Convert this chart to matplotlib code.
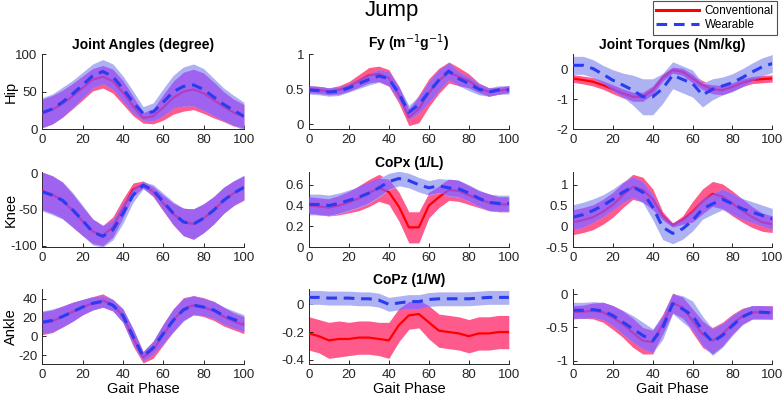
import numpy as np
import matplotlib.pyplot as plt

plt.rcParams['font.family'] = ['Liberation Sans', 'DejaVu Sans']

# gait phase samples (%)
phase = np.arange(0, 101, 5)

# Hip joint angle (degree)
hip_ang_conv = [21, 26, 34, 44, 55, 66, 70, 64, 49, 31, 15, 17, 29, 42, 50, 53, 48, 39, 30, 22, 17]
hip_ang_conv_sd = [19, 19, 18, 17, 16, 15, 15, 16, 16, 13, 7, 10, 17, 22, 26, 27, 27, 24, 20, 18, 16]
hip_ang_wear = [22, 27, 36, 47, 59, 71, 77, 70, 54, 36, 21, 23, 36, 50, 57, 59, 53, 43, 33, 25, 17]
hip_ang_wear_sd = [20, 20, 20, 18, 17, 16, 16, 17, 17, 15, 9, 12, 18, 22, 26, 28, 28, 25, 22, 20, 19]

# Fy (m^-1 g^-1)
fy_conv = [0.50, 0.49, 0.47, 0.49, 0.54, 0.62, 0.70, 0.72, 0.66, 0.42, 0.10, 0.22, 0.45, 0.62, 0.74, 0.68, 0.62, 0.52, 0.46, 0.48, 0.50]
fy_conv_sd = [0.05, 0.05, 0.05, 0.06, 0.07, 0.09, 0.11, 0.11, 0.12, 0.12, 0.12, 0.20, 0.20, 0.18, 0.15, 0.13, 0.10, 0.07, 0.06, 0.05, 0.05]
fy_wear = [0.49, 0.48, 0.46, 0.47, 0.52, 0.58, 0.64, 0.69, 0.65, 0.44, 0.17, 0.28, 0.46, 0.63, 0.76, 0.65, 0.58, 0.50, 0.46, 0.49, 0.49]
fy_wear_sd = [0.06, 0.06, 0.06, 0.06, 0.06, 0.07, 0.08, 0.09, 0.10, 0.10, 0.10, 0.12, 0.15, 0.15, 0.12, 0.10, 0.10, 0.08, 0.06, 0.06, 0.06]

# Hip joint torque (Nm/kg)
hip_trq_conv = [-0.31, -0.36, -0.42, -0.53, -0.67, -0.81, -0.92, -0.92, -0.70, -0.28, -0.03, -0.09, -0.31, -0.53, -0.67, -0.70, -0.59, -0.45, -0.36, -0.33, -0.31]
hip_trq_conv_sd = [0.13, 0.13, 0.14, 0.14, 0.15, 0.15, 0.15, 0.15, 0.14, 0.12, 0.10, 0.12, 0.14, 0.15, 0.15, 0.15, 0.14, 0.13, 0.12, 0.12, 0.12]
hip_trq_wear = [0.13, 0.13, 0.02, -0.17, -0.37, -0.53, -0.70, -0.92, -0.92, -0.64, -0.20, -0.34, -0.48, -0.86, -0.67, -0.56, -0.45, -0.28, -0.09, 0.08, 0.19]
hip_trq_wear_sd = [0.30, 0.30, 0.30, 0.30, 0.35, 0.40, 0.50, 0.60, 0.60, 0.50, 0.45, 0.45, 0.45, 0.40, 0.35, 0.30, 0.30, 0.30, 0.30, 0.30, 0.30]

# Knee joint angle (degree)
knee_ang_conv = [-24, -29, -37, -51, -66, -80, -86, -74, -48, -22, -15, -25, -41, -56, -67, -70, -62, -51, -37, -27, -20]
knee_ang_conv_sd = [26, 26, 25, 23, 20, 17, 14, 14, 13, 9, 5, 7, 11, 15, 19, 21, 20, 19, 18, 17, 17]
knee_ang_wear = [-25, -30, -37, -50, -65, -81, -87, -78, -55, -30, -16, -23, -39, -55, -67, -70, -62, -51, -37, -27, -19]
knee_ang_wear_sd = [27, 27, 26, 24, 21, 18, 15, 14, 14, 10, 5, 8, 12, 16, 19, 21, 20, 19, 18, 17, 17]

# CoPx (1/L)
copx_conv = [0.40, 0.39, 0.38, 0.40, 0.43, 0.47, 0.52, 0.57, 0.53, 0.39, 0.19, 0.19, 0.40, 0.48, 0.55, 0.54, 0.50, 0.46, 0.43, 0.41, 0.41]
copx_conv_sd = [0.08, 0.08, 0.08, 0.09, 0.10, 0.12, 0.13, 0.13, 0.12, 0.14, 0.15, 0.15, 0.12, 0.10, 0.10, 0.10, 0.09, 0.08, 0.08, 0.07, 0.07]
copx_wear = [0.41, 0.41, 0.40, 0.42, 0.45, 0.48, 0.52, 0.57, 0.63, 0.66, 0.64, 0.60, 0.57, 0.59, 0.57, 0.56, 0.52, 0.47, 0.43, 0.42, 0.42]
copx_wear_sd = [0.10, 0.10, 0.10, 0.10, 0.10, 0.10, 0.10, 0.09, 0.08, 0.07, 0.07, 0.07, 0.07, 0.07, 0.08, 0.08, 0.08, 0.08, 0.08, 0.08, 0.08]

# Knee joint torque (Nm/kg)
knee_trq_conv = [0.10, 0.15, 0.22, 0.35, 0.52, 0.75, 0.95, 0.88, 0.65, 0.25, 0.03, 0.15, 0.35, 0.60, 0.78, 0.72, 0.55, 0.38, 0.22, 0.10, 0.05]
knee_trq_conv_sd = [0.30, 0.30, 0.30, 0.30, 0.30, 0.30, 0.30, 0.30, 0.25, 0.10, 0.05, 0.10, 0.25, 0.30, 0.30, 0.30, 0.30, 0.28, 0.25, 0.22, 0.20]
knee_trq_wear = [0.22, 0.28, 0.38, 0.50, 0.65, 0.82, 0.95, 0.82, 0.46, -0.02, -0.17, -0.06, 0.14, 0.42, 0.54, 0.65, 0.54, 0.42, 0.34, 0.26, 0.18]
knee_trq_wear_sd = [0.30, 0.30, 0.28, 0.26, 0.25, 0.25, 0.25, 0.25, 0.30, 0.30, 0.25, 0.25, 0.25, 0.25, 0.25, 0.25, 0.25, 0.25, 0.25, 0.25, 0.25]

# Ankle joint angle (degree)
ank_ang_conv = [14, 16, 21, 26, 31, 35, 38, 33, 22, -1, -22, -14, 2, 17, 29, 33, 31, 27, 21, 16, 12]
ank_ang_conv_sd = [12, 12, 11, 10, 8, 7, 7, 6, 7, 9, 6, 9, 11, 12, 12, 10, 10, 10, 10, 9, 9]
ank_ang_wear = [15, 17, 21, 26, 31, 35, 37, 33, 22, 0, -21, -12, 3, 17, 28, 33, 31, 28, 22, 18, 14]
ank_ang_wear_sd = [12, 12, 11, 10, 8, 7, 6, 6, 7, 8, 5, 7, 10, 12, 12, 10, 9, 9, 9, 9, 9]

# CoPz (1/W)
copz_conv = [-0.21, -0.23, -0.26, -0.25, -0.25, -0.24, -0.24, -0.25, -0.26, -0.15, -0.08, -0.07, -0.13, -0.19, -0.20, -0.21, -0.23, -0.21, -0.21, -0.20, -0.20]
copz_conv_sd = [0.12, 0.12, 0.13, 0.13, 0.12, 0.12, 0.12, 0.12, 0.13, 0.12, 0.10, 0.10, 0.12, 0.12, 0.12, 0.12, 0.12, 0.12, 0.12, 0.12, 0.12]
copz_wear = [0.05, 0.05, 0.045, 0.045, 0.045, 0.04, 0.04, 0.03, 0.00, 0.01, 0.02, 0.02, 0.035, 0.04, 0.04, 0.04, 0.04, 0.045, 0.05, 0.05, 0.05]
copz_wear_sd = [0.05, 0.05, 0.05, 0.05, 0.05, 0.05, 0.05, 0.05, 0.05, 0.05, 0.05, 0.05, 0.05, 0.05, 0.05, 0.05, 0.05, 0.05, 0.05, 0.05, 0.05]

# Ankle joint torque (Nm/kg)
ank_trq_conv = [-0.27, -0.26, -0.25, -0.27, -0.35, -0.45, -0.58, -0.70, -0.72, -0.45, -0.13, -0.20, -0.40, -0.60, -0.70, -0.60, -0.45, -0.33, -0.27, -0.27, -0.27]
ank_trq_conv_sd = [0.10, 0.10, 0.12, 0.15, 0.18, 0.20, 0.22, 0.20, 0.18, 0.15, 0.15, 0.16, 0.18, 0.20, 0.20, 0.18, 0.15, 0.12, 0.10, 0.10, 0.10]
ank_trq_wear = [-0.24, -0.24, -0.23, -0.25, -0.32, -0.42, -0.52, -0.62, -0.70, -0.50, -0.14, -0.22, -0.32, -0.55, -0.72, -0.62, -0.47, -0.34, -0.27, -0.27, -0.28]
ank_trq_wear_sd = [0.12, 0.12, 0.12, 0.13, 0.15, 0.18, 0.20, 0.20, 0.18, 0.18, 0.15, 0.20, 0.22, 0.22, 0.20, 0.18, 0.15, 0.12, 0.10, 0.10, 0.10]

titles = ['Joint Angles (degree)', 'Fy (m$^{-1}$g$^{-1}$)', 'Joint Torques (Nm/kg)',
          None, 'CoPx (1/L)', None,
          None, 'CoPz (1/W)', None]
row_labels = ['Hip', 'Knee', 'Ankle']

panels = [
    (hip_ang_conv, hip_ang_conv_sd, hip_ang_wear, hip_ang_wear_sd, (0, 100), [0, 50, 100]),
    (fy_conv, fy_conv_sd, fy_wear, fy_wear_sd, (-0.07, 1.0), [0, 0.5, 1]),
    (hip_trq_conv, hip_trq_conv_sd, hip_trq_wear, hip_trq_wear_sd, (-2, 0.5), [-2, -1, 0]),
    (knee_ang_conv, knee_ang_conv_sd, knee_ang_wear, knee_ang_wear_sd, (-102, 2), [-100, -50, 0]),
    (copx_conv, copx_conv_sd, copx_wear, copx_wear_sd, (0, 0.72), [0, 0.2, 0.4, 0.6]),
    (knee_trq_conv, knee_trq_conv_sd, knee_trq_wear, knee_trq_wear_sd, (-0.5, 1.3), [-0.5, 0, 0.5, 1]),
    (ank_ang_conv, ank_ang_conv_sd, ank_ang_wear, ank_ang_wear_sd, (-29, 50), [-20, 0, 20, 40]),
    (copz_conv, copz_conv_sd, copz_wear, copz_wear_sd, (-0.43, 0.11), [-0.4, -0.2, 0]),
    (ank_trq_conv, ank_trq_conv_sd, ank_trq_wear, ank_trq_wear_sd, (-1.05, 0.08), [-1, -0.5, 0]),
]

red_band = '#ff5a8c'
blue_band = '#aeb2f2'
overlap = '#9c50f0'
red_line = '#ff0000'
blue_line = '#2a3cf0'

fig = plt.figure(figsize=(7.84, 3.96), dpi=100)

lefts = [0.054, 0.394, 0.731]
widths = [0.257, 0.255, 0.254]
bottoms = [0.674, 0.376, 0.081]
h = 0.189

for i, (cm, cs, wm, ws, ylim, yticks) in enumerate(panels):
    r, c = divmod(i, 3)
    ax = fig.add_axes([lefts[c], bottoms[r], widths[c], h])
    cm, cs, wm, ws = map(np.array, (cm, cs, wm, ws))
    clo, chi = cm - cs, cm + cs
    wlo, whi = wm - ws, wm + ws
    olo, ohi = np.maximum(clo, wlo), np.minimum(chi, whi)

    ax.fill_between(phase, clo, chi, color=red_band, lw=0, zorder=1)
    ax.fill_between(phase, wlo, whi, color=blue_band, lw=0, zorder=2)
    ax.plot(phase, cm, color=red_line, lw=1.6, zorder=3)
    ax.fill_between(phase, olo, ohi, where=ohi > olo, interpolate=True,
                    color=overlap, alpha=0.8, lw=0, zorder=4)
    ax.plot(phase, wm, color=blue_line, lw=2.2, dashes=(3.5, 2.2), zorder=5)

    ax.set_xlim(0, 100)
    ax.set_ylim(*ylim)
    ax.set_xticks([0, 20, 40, 60, 80, 100])
    ax.set_yticks(yticks)
    ax.set_yticklabels([f'{t:g}' for t in yticks])
    ax.tick_params(direction='in', length=3, labelsize=9.5, colors='#262626', width=0.7)
    for s in ('top', 'right'):
        ax.spines[s].set_visible(False)
    for s in ('left', 'bottom'):
        ax.spines[s].set_color('#262626')
        ax.spines[s].set_linewidth(0.7)
    if titles[i]:
        ax.set_title(titles[i], fontsize=10, fontweight='bold', pad=4)
    if c == 0:
        ax.set_ylabel(row_labels[r], fontsize=10.5)
        ax.yaxis.set_label_coords(-0.122, 0.5)
    if r == 2:
        ax.set_xlabel('Gait Phase', fontsize=10.5, labelpad=1)

fig.suptitle('Jump', fontsize=16, y=1.0)

h1, = plt.plot([], [], color=red_line, lw=2.2)
h2, = plt.plot([], [], color=blue_line, lw=2.2, dashes=(3.5, 2.2))
fig.legend([h1, h2], ['Conventional', 'Wearable'], loc='upper right',
           bbox_to_anchor=(0.993, 1.0), fontsize=8.5, frameon=True, fancybox=False,
           edgecolor='#262626', borderpad=0.3, labelspacing=0.2, handlelength=3.6,
           handletextpad=0.5, borderaxespad=0.1).get_frame().set_linewidth(0.8)

fig.savefig('out.png', dpi=100)
